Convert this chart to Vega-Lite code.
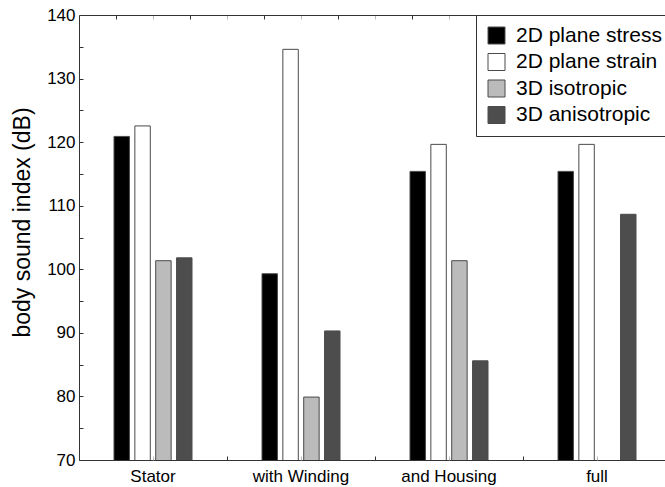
{
  "$schema": "https://vega.github.io/schema/vega-lite/v6.json",
  "width": 586,
  "height": 445,
  "autosize": {"type": "none"},
  "padding": {"left": 79, "top": 15, "right": 0, "bottom": 27},
  "config": {
    "font": "Liberation Sans",
    "view": {"stroke": null},
    "axis": {"labelFont": "Liberation Sans", "titleFont": "Liberation Sans", "labelColor": "#000000", "titleColor": "#000000", "grid": false}
  },
  "datasets": {
    "bars": [
      {"stage": "Stator", "model": "2D plane stress", "index": 120.9},
      {"stage": "Stator", "model": "2D plane strain", "index": 122.55},
      {"stage": "Stator", "model": "3D isotropic", "index": 101.35},
      {"stage": "Stator", "model": "3D anisotropic", "index": 101.8},
      {"stage": "with Winding", "model": "2D plane stress", "index": 99.3},
      {"stage": "with Winding", "model": "2D plane strain", "index": 134.6},
      {"stage": "with Winding", "model": "3D isotropic", "index": 79.9},
      {"stage": "with Winding", "model": "3D anisotropic", "index": 90.3},
      {"stage": "and Housing", "model": "2D plane stress", "index": 115.4},
      {"stage": "and Housing", "model": "2D plane strain", "index": 119.65},
      {"stage": "and Housing", "model": "3D isotropic", "index": 101.35},
      {"stage": "and Housing", "model": "3D anisotropic", "index": 85.6},
      {"stage": "full", "model": "2D plane stress", "index": 115.4},
      {"stage": "full", "model": "2D plane strain", "index": 119.65},
      {"stage": "full", "model": "3D anisotropic", "index": 108.65}
    ]
  },
  "layer": [
    {
      "data": {"name": "bars"},
      "mark": {"type": "bar", "stroke": "#4a4a4a", "strokeWidth": 1, "clip": true},
      "encoding": {
        "x": {
          "field": "stage", "type": "nominal",
          "sort": ["Stator", "with Winding", "and Housing", "full"],
          "scale": {"range": [0, 592], "paddingInner": 0, "paddingOuter": 0},
          "axis": {"orient": "bottom", "title": null, "ticks": false, "domain": true, "domainColor": "#333333", "labelAngle": 0, "labelFontSize": 17, "labelPadding": 8}
        },
        "xOffset": {
          "field": "model", "type": "nominal",
          "sort": ["2D plane stress", "2D plane strain", "3D isotropic", "3D anisotropic"],
          "scale": {"domain": ["2D plane stress", "2D plane strain", "3D isotropic", "3D anisotropic"], "range": [35, 113], "paddingInner": 0.26, "paddingOuter": 0}
        },
        "y": {
          "field": "index", "type": "quantitative",
          "scale": {"domain": [70, 140], "zero": false, "nice": false},
          "axis": {
            "title": "body sound index (dB)",
            "titleFontSize": 23, "titleFontWeight": "normal",
            "titleAngle": 270, "titleX": -57, "titleY": 207, "titleAlign": "center", "titleBaseline": "middle",
            "values": [70, 75, 80, 85, 90, 95, 100, 105, 110, 115, 120, 125, 130, 135, 140],
            "labelExpr": "datum.value % 10 == 0 ? datum.label : ''",
            "labelFontSize": 17, "labelPadding": 8,
            "tickSize": -4, "tickColor": "#333333",
            "domain": true, "domainColor": "#333333"
          }
        },
        "color": {
          "field": "model", "type": "nominal",
          "sort": ["2D plane stress", "2D plane strain", "3D isotropic", "3D anisotropic"],
          "scale": {"domain": ["2D plane stress", "2D plane strain", "3D isotropic", "3D anisotropic"], "range": ["#000000", "#ffffff", "#bbbbbb", "#4d4d4d"]},
          "legend": {
            "title": null, "orient": "none", "legendX": 397, "legendY": 0,
            "fillColor": "#ffffff", "strokeColor": "#333333", "padding": 10,
            "symbolType": "square", "symbolSize": 289, "symbolStrokeColor": "#4a4a4a", "symbolStrokeWidth": 1,
            "labelFontSize": 21, "labelFont": "Liberation Sans", "labelColor": "#000000", "labelOffset": 9, "rowPadding": 4.5
          }
        }
      }
    },
    {
      "data": {"name": "bars"},
      "mark": {"type": "point", "opacity": 0, "clip": true},
      "encoding": {
        "x": {
          "field": "index", "type": "quantitative",
          "scale": {"domain": [0, 4], "range": [0, 592], "nice": false, "zero": false},
          "axis": {
            "orient": "bottom", "title": null, "labels": false, "domain": false,
            "values": [0.5, 1, 1.5, 2, 2.5, 3, 3.5],
            "tickSize": -4,
            "tickColor": {"condition": {"test": "datum.value % 1 == 0", "value": "#333333"}, "value": "#bbbbbb"}
          }
        }
      }
    },
    {
      "data": {"name": "bars"},
      "mark": {"type": "point", "opacity": 0, "clip": true},
      "encoding": {
        "x": {
          "field": "index", "type": "quantitative",
          "scale": {"domain": [0, 4], "range": [0, 592], "nice": false, "zero": false},
          "axis": {
            "orient": "top", "title": null, "labels": false, "domain": true, "domainColor": "#333333",
            "values": [0.25, 0.5, 0.75, 1, 1.25, 1.5, 1.75, 2, 2.25, 2.5, 2.75, 3, 3.25, 3.5, 3.75],
            "tickSize": -4,
            "tickColor": {"condition": {"test": "datum.value % 0.5 == 0", "value": "#bbbbbb"}, "value": "#333333"}
          }
        }
      }
    }
  ],
  "resolve": {"scale": {"x": "independent"}, "axis": {"x": "independent"}}
}
